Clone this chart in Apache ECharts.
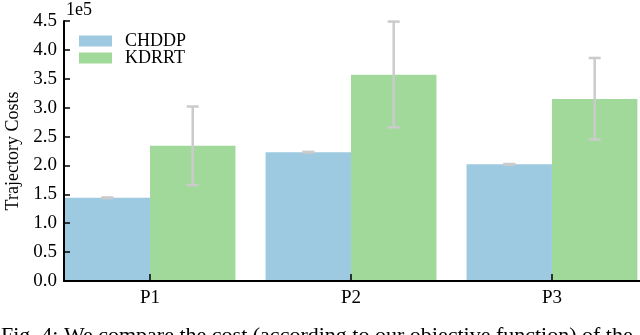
<!DOCTYPE html>
<html>
<head>
<meta charset="utf-8">
<script src="https://cdn.jsdelivr.net/npm/echarts@6/dist/echarts.min.js"></script>
<style>
  html, body { margin: 0; padding: 0; background: #fff; }
  #chart { width: 640px; height: 335px; }
</style>
</head>
<body>
<div id="chart"></div>
<script>
// data (values in units of 1e5)
const problems = ['P1', 'P2', 'P3']
const chddpMean = [1.44, 2.23, 2.02]
const chddpLow = [1.435, 2.225, 2.015]
const chddpHigh = [1.445, 2.235, 2.025]
const kdrrtMean = [2.34, 3.57, 3.15]
const kdrrtLow = [1.66, 2.66, 2.45]
const kdrrtHigh = [3.02, 4.49, 3.86]
const yTicks = [0, 0.5, 1, 1.5, 2, 2.5, 3, 3.5, 4, 4.5]

const FONT = '"Liberation Serif", "DejaVu Serif", serif'
const BAR = 0.425 // bar width as a fraction of one category step

const chart = echarts.init(document.getElementById('chart'))

function errorSeries(name, low, high, side) {
  return {
    name: name + ' err',
    type: 'custom',
    z: 5,
    silent: true,
    data: problems.map((p, i) => [i, low[i], high[i]]),
    renderItem(params, api) {
      const unit = api.size([1, 0])[0]
      const x = api.coord([api.value(0), 0])[0] + side * unit * BAR / 2
      const yLo = api.coord([0, api.value(1)])[1]
      const yHi = api.coord([0, api.value(2)])[1]
      const cap = 6
      const style = { stroke: '#cbcbcb', lineWidth: 2.5 }
      return {
        type: 'group',
        children: [
          { type: 'line', shape: { x1: x, y1: yLo, x2: x, y2: yHi }, style },
          { type: 'line', shape: { x1: x - cap, y1: yHi, x2: x + cap, y2: yHi }, style },
          { type: 'line', shape: { x1: x - cap, y1: yLo, x2: x + cap, y2: yLo }, style }
        ]
      }
    }
  }
}

function legendRow(name, top) {
  return {
    data: [name],
    left: 79,
    top: top,
    padding: 0,
    icon: 'rect',
    itemWidth: 33,
    itemHeight: 11,
    selectedMode: false,
    textStyle: { fontFamily: FONT, fontSize: 18, color: '#000', padding: [0, 0, 0, 8] }
  }
}

chart.setOption({
  animation: false,
  grid: { left: 64, right: 0, top: 21, bottom: 54, outerBoundsMode: 'none' },
  legend: [legendRow('CHDDP', 32), legendRow('KDRRT', 49)],
  graphic: [
    {
      type: 'text',
      left: 66,
      top: 1,
      style: { text: '1e5', font: '18px ' + FONT, fill: '#000' }
    },
    {
      type: 'text',
      left: 1,
      top: 325,
      style: {
        text: 'Fig. 4: We compare the cost (according to our objective function) of the',
        font: '22px ' + FONT,
        fill: '#000'
      }
    }
  ],
  xAxis: {
    type: 'value',
    min: -0.428,
    max: 2.438,
    z: 4,
    axisLine: { lineStyle: { color: '#000', width: 2 } },
    axisTick: {
      customValues: [0, 1, 2],
      inside: true,
      length: 7,
      lineStyle: { color: '#000', width: 1.5 }
    },
    axisLabel: {
      customValues: [0, 1, 2],
      formatter: v => problems[Math.round(v)],
      fontFamily: FONT,
      fontSize: 19,
      color: '#000',
      margin: 8
    },
    splitLine: { show: false }
  },
  yAxis: {
    type: 'value',
    min: 0,
    max: 4.5,
    interval: 0.5,
    z: 4,
    name: 'Trajectory Costs',
    nameLocation: 'middle',
    nameGap: 41,
    nameTextStyle: { fontFamily: FONT, fontSize: 18, color: '#000' },
    axisLine: { show: true, onZero: false, lineStyle: { color: '#000', width: 2 } },
    axisTick: { inside: true, length: 6, lineStyle: { color: '#000', width: 1.5 } },
    axisLabel: {
      customValues: yTicks,
      formatter: v => v.toFixed(1),
      fontFamily: FONT,
      fontSize: 19,
      color: '#000',
      margin: 7
    },
    splitLine: { show: false }
  },
  series: [
    {
      name: 'CHDDP',
      type: 'bar',
      barWidth: (BAR * 100) + '%',
      barGap: '0%',
      itemStyle: { color: '#9ecae1' },
      data: chddpMean.map((v, i) => [i, v])
    },
    {
      name: 'KDRRT',
      type: 'bar',
      barWidth: (BAR * 100) + '%',
      barGap: '0%',
      itemStyle: { color: '#a1d99b' },
      data: kdrrtMean.map((v, i) => [i, v])
    },
    errorSeries('CHDDP', chddpLow, chddpHigh, -1),
    errorSeries('KDRRT', kdrrtLow, kdrrtHigh, 1)
  ]
})
</script>
</body>
</html>
